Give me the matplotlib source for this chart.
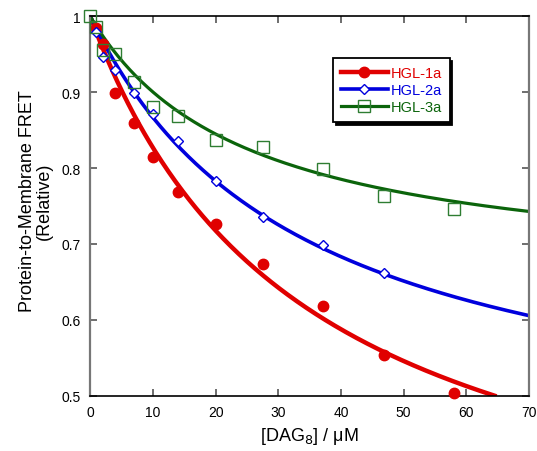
import numpy as np
import matplotlib
matplotlib.use("Agg")
import matplotlib.pyplot as plt

plt.rcParams['font.family'] = ['Liberation Sans', 'DejaVu Sans']

# concentraciones de DAG8 (uM)
conc1 = [1, 2, 4, 7, 10, 14, 20, 27.6, 37.2, 46.8, 58.1]
conc2 = [1, 2, 4, 7, 10, 14, 20, 27.6, 37.2, 46.8]
conc3 = [0, 1, 2, 4, 7, 10, 14, 20, 27.6, 37.2, 46.8, 58.1]

# FRET relativo
hgl1a = [0.985, 0.964, 0.899, 0.859, 0.814, 0.768, 0.726, 0.673, 0.618, 0.554, 0.503]
hgl2a = [0.979, 0.946, 0.929, 0.899, 0.871, 0.836, 0.783, 0.736, 0.698, 0.662]
hgl3a = [1.0, 0.986, 0.956, 0.950, 0.914, 0.880, 0.868, 0.837, 0.828, 0.799, 0.763, 0.746]

# parametros del ajuste hiperbolico y = 1 - A*x/(K+x), y hasta donde llega cada curva
fit_A = {"HGL-1a": 0.765, "HGL-2a": 0.586, "HGL-3a": 0.349}
fit_K = {"HGL-1a": 34.2, "HGL-2a": 34.0, "HGL-3a": 25.0}
fit_xmax = {"HGL-1a": 64.5, "HGL-2a": 70, "HGL-3a": 70}

xticks = [0, 10, 20, 30, 40, 50, 60, 70]
yticks = [0.5, 0.6, 0.7, 0.8, 0.9, 1.0]
ylabels = ["0.5", "0.6", "0.7", "0.8", "0.9", "1"]

red = "#e00000"
blue = "#0000dd"
green = "#0b640b"


def ajuste(nombre):
    x = np.linspace(0, fit_xmax[nombre], 300)
    return x, 1 - fit_A[nombre] * x / (fit_K[nombre] + x)


fig = plt.figure(figsize=(5.37, 4.52), dpi=100)
ax = fig.add_axes([0.168, 0.1223, 0.817, 0.8394])

series = [
    ("HGL-1a", conc1, hgl1a, red, dict(marker="o", ms=7.5, mfc=red, mec=red), 3.2),
    ("HGL-2a", conc2, hgl2a, blue, dict(marker="D", ms=5.5, mfc="white", mec=blue, mew=1.0), 2.6),
    ("HGL-3a", conc3, hgl3a, green, dict(marker="s", ms=9, mfc="none", mec="#2e7d32", mew=1.0), 2.3),
]

handles = []
for nombre, xs, ys, col, mk, lw in series:
    xf, yf = ajuste(nombre)
    ax.plot(xf, yf, "-", color=col, lw=lw, zorder=2)
    ax.plot(xs, ys, ls="none", zorder=3, clip_on=False, **mk)
    h, = ax.plot([], [], "-", color=col, lw=lw, **mk)
    handles.append(h)

ax.set_xlim(0, 70)
ax.set_ylim(0.5, 1.0)
ax.set_xticks(xticks)
ax.set_yticks(yticks)
ax.set_yticklabels(ylabels)
ax.tick_params(direction="in", length=5, width=1.2, top=True, right=True,
               labelsize=10, pad=7, color="#555555")

for lado in ["left", "right"]:
    ax.spines[lado].set_color("#777777")
    ax.spines[lado].set_linewidth(1.6)
for lado in ["top", "bottom"]:
    ax.spines[lado].set_color("black")
    ax.spines[lado].set_linewidth(1.2)

ax.set_xlabel("[DAG$_8$] / μM", fontsize=13, labelpad=4)
ax.set_ylabel("Protein-to-Membrane FRET\n(Relative)", fontsize=13,
              linespacing=1.0)
ax.yaxis.set_label_coords(-0.085, 0.515)

leg = ax.legend(handles, [s[0] for s in series], loc="upper left",
                bbox_to_anchor=(0.553, 0.89), fontsize=10.5, handlelength=3.2,
                handletextpad=0.2, labelspacing=0.2, borderpad=0.55,
                borderaxespad=0, fancybox=False,
                shadow={"color": "black", "alpha": 1.0},
                framealpha=1, edgecolor="black")
leg.get_frame().set_linewidth(1.3)
for txt, s in zip(leg.get_texts(), series):
    txt.set_color(s[3])

fig.savefig("out.png", dpi=100)
